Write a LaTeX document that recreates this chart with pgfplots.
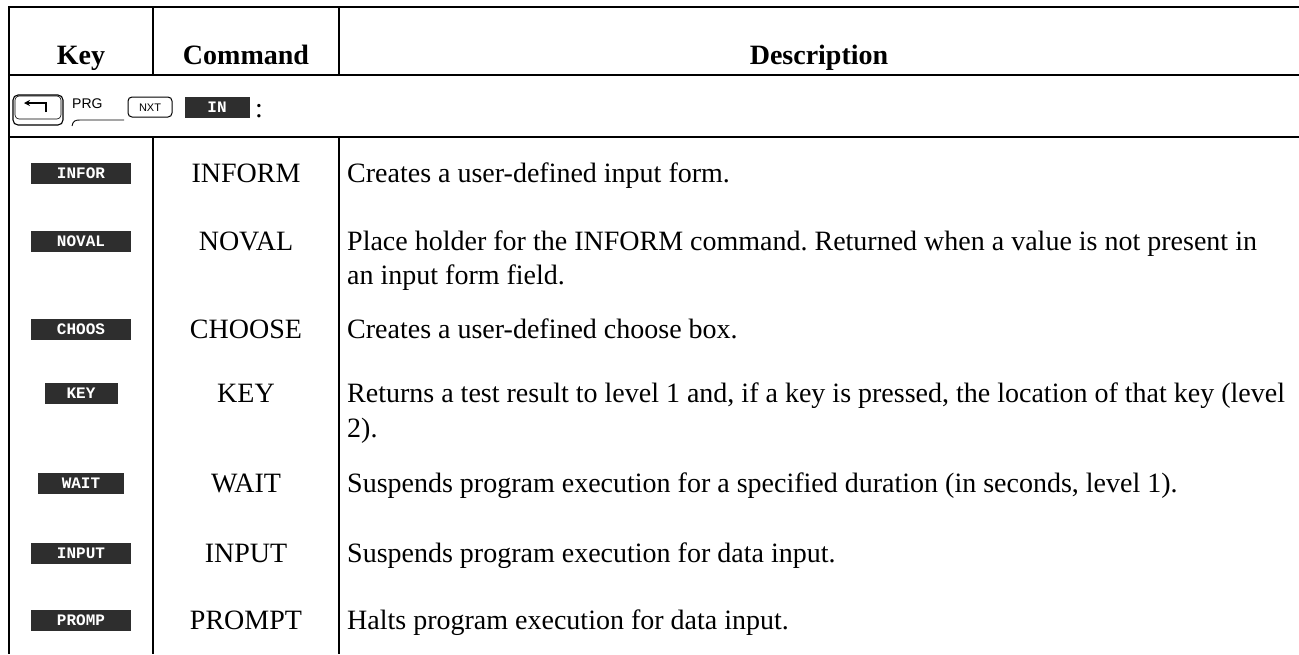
\documentclass[border=0pt]{standalone}
\usepackage{pgfplots}
\pgfplotsset{compat=1.18}
\usetikzlibrary{arrows.meta}
\usepackage{fontspec}
\setmainfont{Liberation Serif}
\setsansfont{Liberation Sans}
\setmonofont{Liberation Mono}
\frenchspacing
\newcommand{\keyicon}[3]{\node[fill=black!82, text=white, font=\ttfamily\bfseries\fontsize{16}{16}\selectfont, minimum width=#3pt, minimum height=21pt, inner sep=0pt] at (axis cs:81,#2) {#1};}
\newcommand{\body}{\fontsize{28}{32}\selectfont}
\begin{document}
\begin{tikzpicture}
\begin{axis}[
  width=1299pt, height=654pt, scale only axis,
  xmin=0, xmax=1299, ymin=0, ymax=654, y dir=reverse,
  hide axis, clip=false,
]
\addplot[draw=none, forget plot] coordinates {(0,0) (1299,654)};
% horizontal rules
\addplot[black, line width=2pt, forget plot] coordinates {(8,7) (1299,7)};
\addplot[black, line width=2pt, forget plot] coordinates {(8,75) (1299,75)};
\addplot[black, line width=2pt, forget plot] coordinates {(8,137) (1299,137)};
% vertical rules
\addplot[black, line width=2pt, forget plot] coordinates {(9,6) (9,654)};
\addplot[black, line width=2pt, forget plot] coordinates {(153,6) (153,75)};
\addplot[black, line width=2pt, forget plot] coordinates {(153,137) (153,654)};
\addplot[black, line width=2pt, forget plot] coordinates {(339,6) (339,75)};
\addplot[black, line width=2pt, forget plot] coordinates {(339,137) (339,654)};
% header
\node[anchor=base, font=\bfseries\fontsize{28}{32}\selectfont] at (axis cs:81,64) {Key};
\node[anchor=base, font=\bfseries\fontsize{28}{32}\selectfont] at (axis cs:246,64) {Command};
\node[anchor=base, font=\bfseries\fontsize{28}{32}\selectfont] at (axis cs:819,64) {Description};
% section row: keystroke sequence
\draw[black, line width=1.1pt, rounded corners=5pt] (axis cs:13,95) rectangle (axis cs:63,125);
\draw[black, line width=0.6pt, rounded corners=4pt] (axis cs:15,96) rectangle (axis cs:61,119);
\draw[black, line width=1.6pt, -{Stealth[length=6pt,width=6pt]}] (axis cs:46,112) -- (axis cs:46,103) -- (axis cs:24,103);
\node[anchor=base west, font=\sffamily\fontsize{14}{14}\selectfont, inner sep=0pt] at (axis cs:72,108) {PRG};
\draw[black, line width=0.9pt] (axis cs:72,126) .. controls (axis cs:73,121) and (axis cs:75,120) .. (axis cs:80,120) -- (axis cs:124,120);
\draw[black, line width=1pt, rounded corners=4pt] (axis cs:128,97) rectangle (axis cs:172,117);
\node[font=\sffamily\fontsize{11}{11}\selectfont, inner sep=0pt] at (axis cs:150,107.5) {NXT};
\node[fill=black!82, text=white, font=\ttfamily\bfseries\fontsize{16}{16}\selectfont, minimum width=65pt, minimum height=21pt, inner sep=0pt] at (axis cs:217,107) {IN};
\node[anchor=base, font=\body] at (axis cs:259,117) {:};
% rows: key icons
\keyicon{INFOR}{173}{100}
\keyicon{NOVAL}{241}{100}
\keyicon{CHOOS}{329}{100}
\keyicon{KEY}{393}{73}
\keyicon{WAIT}{483}{86}
\keyicon{INPUT}{553}{100}
\keyicon{PROMP}{620}{100}
% rows: commands
\node[anchor=base, font=\body] at (axis cs:246,182) {INFORM};
\node[anchor=base, font=\body] at (axis cs:246,250) {NOVAL};
\node[anchor=base, font=\body] at (axis cs:246,338) {CHOOSE};
\node[anchor=base, font=\body] at (axis cs:246,402) {KEY};
\node[anchor=base, font=\body] at (axis cs:246,492) {WAIT};
\node[anchor=base, font=\body] at (axis cs:246,562) {INPUT};
\node[anchor=base, font=\body] at (axis cs:246,629) {PROMPT};
% rows: descriptions
\node[anchor=base west, font=\body, inner sep=0pt] at (axis cs:347,182) {Creates a user-defined input form.};
\node[anchor=base west, font=\body, inner sep=0pt] at (axis cs:347,250) {Place holder for the INFORM command. Returned when a value is not present in};
\node[anchor=base west, font=\body, inner sep=0pt] at (axis cs:347,284) {an input form field.};
\node[anchor=base west, font=\body, inner sep=0pt] at (axis cs:347,338) {Creates a user-defined choose box.};
\node[anchor=base west, font=\body, inner sep=0pt] at (axis cs:347,402) {Returns a test result to level 1 and, if a key is pressed, the location of that key (level};
\node[anchor=base west, font=\body, inner sep=0pt] at (axis cs:347,437) {2).};
\node[anchor=base west, font=\body, inner sep=0pt] at (axis cs:347,492) {Suspends program execution for a specified duration (in seconds, level 1).};
\node[anchor=base west, font=\body, inner sep=0pt] at (axis cs:347,562) {Suspends program execution for data input.};
\node[anchor=base west, font=\body, inner sep=0pt] at (axis cs:347,629) {Halts program execution for data input.};
\end{axis}
\pgfresetboundingbox
\path (current axis.south west) rectangle (current axis.north east);
\end{tikzpicture}
\end{document}
